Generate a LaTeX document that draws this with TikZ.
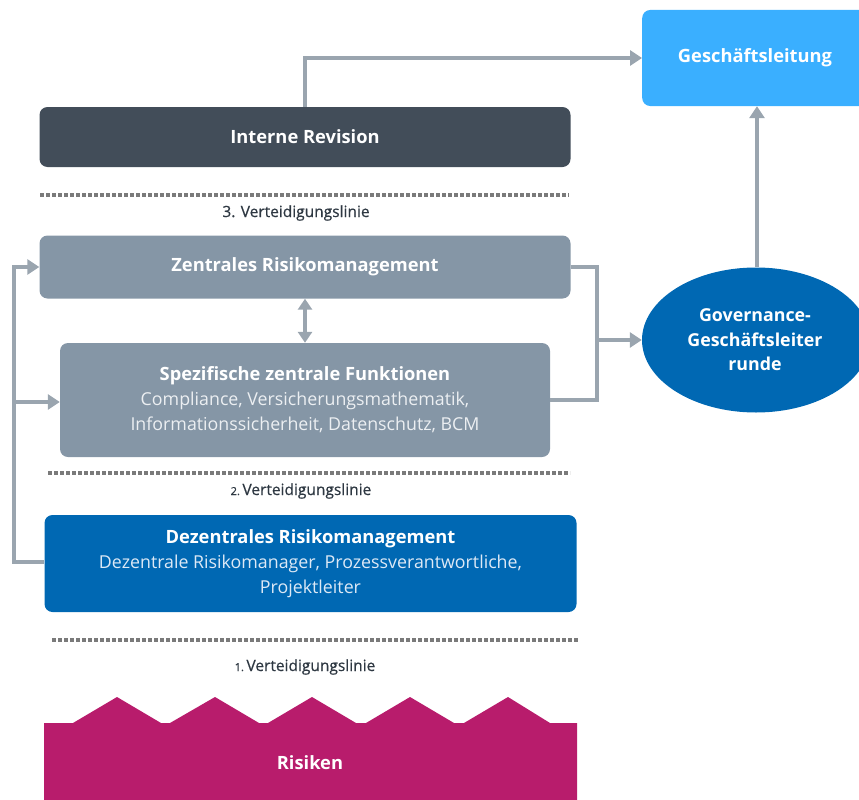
\documentclass[tikz,border=0pt]{standalone}
\usepackage{fontspec}
\setmainfont{Open Sans}
\newfontfamily\labfont{Open Sans}[FakeBold=0.5]
\usetikzlibrary{arrows.meta,shapes.geometric}
\definecolor{glblue}{HTML}{3AAFFF}
\definecolor{irdark}{HTML}{424D59}
\definecolor{zgray}{HTML}{8596A6}
\definecolor{dblue}{HTML}{0068B3}
\definecolor{risk}{HTML}{B81C6C}
\definecolor{conn}{HTML}{9AA5AF}
\definecolor{dotc}{HTML}{7A7A7A}
\definecolor{labc}{HTML}{2E3842}
\definecolor{subg}{HTML}{ECEFF2}
\definecolor{subb}{HTML}{DDE9F6}
\tikzset{
  boxn/.style={rounded corners=8pt, inner sep=0pt, align=center, text=white, font=\fontsize{18}{25}\selectfont},
  ttl/.style={font=\fontsize{18.3}{25}\selectfont\bfseries},
  conline/.style={draw=conn, line width=4pt},
  arr/.style={conline, -{Triangle[length=12pt,width=15pt]}},
  darr/.style={conline, {Triangle[length=11pt,width=14pt]}-{Triangle[length=11pt,width=14pt]}},
  dotline/.style={draw=dotc, line width=4pt, dash pattern=on 3.5pt off 2.5pt},
  linelab/.style={text=labc, font=\labfont\fontsize{15.5}{18}\selectfont, inner sep=0pt},
}
\newcommand{\ttlf}{\fontsize{18.3}{25}\selectfont\bfseries}
\newcommand{\subf}{\fontsize{17.8}{25}\selectfont}
\begin{document}
\begin{tikzpicture}[x=1pt,y=-1pt]
\useasboundingbox (0,0) rectangle (859,800);
% Geschaeftsleitung
\node[boxn, fill=glblue, minimum width=228pt, minimum height=96pt, anchor=west] (gl) at (642,58) {};
\node[ttl, text=white] (gltext) at (755,58) {Geschäftsleitung};
% Interne Revision
\node[boxn, fill=irdark, minimum width=531pt, minimum height=60pt, ttl] (ir) at (305,137) {Interne Revision};
\draw[dotline] (40,195) -- (569,195);
\node[linelab] (l3) at (296,213) {3. Verteidigungslinie};
% Zentrales
\node[boxn, fill=zgray, minimum width=531pt, minimum height=63pt, ttl] (zr) at (305,267) {Zentrales Risikomanagement};
% Spezifische
\node[boxn, fill=zgray, minimum width=490pt, minimum height=114pt] (sz) at (305,400)
  {{\ttlf Spezifische zentrale Funktionen}\\
   {\subf\color{subg}Compliance, Versicherungsmathematik,}\\
   {\subf\color{subg}Informationssicherheit, Datenschutz, BCM}};
\draw[dotline] (48,473) -- (570,473);
\node[linelab] (l2) at (301,491) {{\fontsize{11}{12}\selectfont 2.}\,Verteidigungslinie};
% Dezentrales
\node[boxn, fill=dblue, minimum width=532pt, minimum height=97pt] (dz) at (310.5,563.5)
  {{\ttlf Dezentrales Risikomanagement}\\
   {\subf\color{subb}Dezentrale Risikomanager, Prozessverantwortliche,}\\
   {\subf\color{subb}Projektleiter}};
\draw[dotline] (52,640) -- (578,640);
\node[linelab] (l1) at (305,667) {{\fontsize{11}{12}\selectfont 1.}\,Verteidigungslinie};
% Risiken
\fill[risk] (44,723) -- (73,723) -- (117,697) -- (161,723) -- (170,723) -- (215,697) -- (259,723)
  -- (268,723) -- (312,697) -- (356,723) -- (366,723) -- (410,697) -- (454,723) -- (464,723)
  -- (508,697) -- (550,723) -- (577,723) -- (577,805) -- (44,805) -- cycle;
\node[ttl, text=white] (rk) at (310,763) {Risiken};
% Governance ellipse
\node[ellipse, fill=dblue, minimum width=228pt, minimum height=145pt, inner sep=0pt] (gov) at (756,340) {};
\node[text=white, align=center, font=\fontsize{17.8}{24.5}\selectfont\bfseries] (govtext) at (755,340)
  {Governance-\\Geschäftsleiter\\runde};
% connectors
\draw[arr] (ir.north) |- (gl.west);
\draw[arr] (gov.north -| 757,0) -- (gl.south -| 757,0);
\draw[darr] (zr.south) -- (sz.north);
\coordinate (rj) at (597,340);
\draw[conline] (zr.east) -| (rj);
\draw[conline] (sz.east) -| (rj);
\draw[arr] (rj) -- (gov.west);
\coordinate (lj) at (14,402);
\draw[conline, line join=miter] (dz.west |- 0,562) -- (14,562) -- (lj);
\draw[arr] (14,562) |- (zr.west);
\draw[arr] (lj) -- (sz.west |- lj);
\end{tikzpicture}
\end{document}
